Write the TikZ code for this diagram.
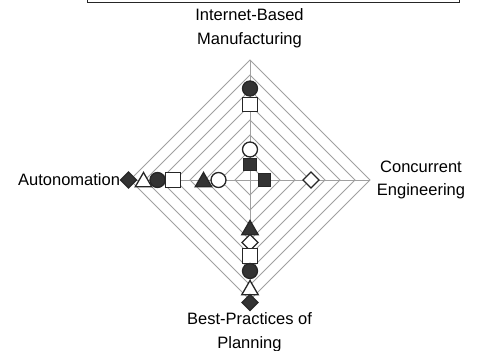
\documentclass[tikz,border=0pt]{standalone}
\usepackage{fontspec}
\setmainfont{Liberation Sans}
\usetikzlibrary{shapes.geometric,calc}
\definecolor{gridgray}{HTML}{A0A0A0}
\definecolor{markfill}{HTML}{333333}

\begin{document}
\begin{tikzpicture}[x=1pt, y=-1pt,
    grid/.style={draw=gridgray, line width=0.9pt},
    mk/.style={draw=black!85, line width=1.3pt, inner sep=0pt},
    fcirc/.style={mk, circle, fill=markfill, minimum size=15pt},
    ocirc/.style={mk, circle, fill=white, minimum size=15pt},
    fsq/.style={mk, rectangle, fill=markfill, minimum size=12.5pt},
    osq/.style={mk, rectangle, fill=white, minimum size=14.5pt},
    fdia/.style={mk, diamond, fill=markfill, minimum size=16.5pt},
    odia/.style={mk, diamond, fill=white, minimum size=16.5pt},
    ftri/.style={mk, regular polygon, regular polygon sides=3, fill=markfill, minimum size=19pt},
    otri/.style={mk, regular polygon, regular polygon sides=3, fill=white, minimum size=19pt},
    axislabel/.style={align=center, inner sep=0pt, font=\fontsize{16.5}{23.6}\selectfont}]
    \useasboundingbox (0,0) rectangle (477,351);

    % legend frame, cut off at the top
    \draw[black!85, line width=1pt] (87,-10) rectangle (459,2.7);

    % rings and axes
    \coordinate (c) at (250,180);
    \coordinate (t) at (250,60);
    \coordinate (r) at (370,180);
    \coordinate (b) at (250,300);
    \coordinate (l) at (130,180);
    \foreach \k in {1,...,8}
        \draw[grid] ($(c)+(0,-15*\k)$) -- ($(c)+(15*\k,0)$) -- ($(c)+(0,15*\k)$)
            -- ($(c)+(-15*\k,0)$) -- cycle;
    \draw[grid] (c) -- (t);
    \draw[grid] (c) -- (r);
    \draw[grid] (c) -- (b);
    \draw[grid] (c) -- (l);

    % axis labels (base is the last line)
    \node[axislabel, anchor=base] (ibm) at (249.5,44.3) {Internet-Based\\Manufacturing};
    \node[axislabel, anchor=base] (ce) at (421,195.9) {Concurrent\\Engineering};
    \node[axislabel, anchor=base] (bpp) at (249.5,348.5) {Best-Practices of\\Planning};
    \node[axislabel, anchor=base west] (auto) at (18,185.7) {Autonomation};

    % Internet-Based Manufacturing
    \node[fcirc] (t6) at (250,88.5) {};
    \node[osq] (t5) at (250,104.5) {};
    \node[ocirc] (t2) at (250,149.5) {};
    \node[fsq] (t1) at (250,164.5) {};
    % Concurrent Engineering
    \node[fsq] (r1) at (264.5,180) {};
    \node[odia] (r4) at (311,180) {};
    % Autonomation
    \node[ocirc] (l2) at (218.5,180) {};
    \node[ftri] (l3) at (203.5,182) {};
    \node[osq] (l5) at (173,180) {};
    \node[fcirc] (l6) at (157.5,180) {};
    \node[otri] (l7) at (143.5,182) {};
    \node[fdia] (l8) at (128.5,180) {};
    % Best-Practices of Planning
    \node[ftri] (b3) at (250,230) {};
    \node[odia] (b4) at (250,242.5) {};
    \node[osq] (b5) at (250,256) {};
    \node[fcirc] (b6) at (250,271) {};
    \node[otri] (b7) at (250,290) {};
    \node[fdia] (b8) at (250,302.5) {};
\end{tikzpicture}
\end{document}
